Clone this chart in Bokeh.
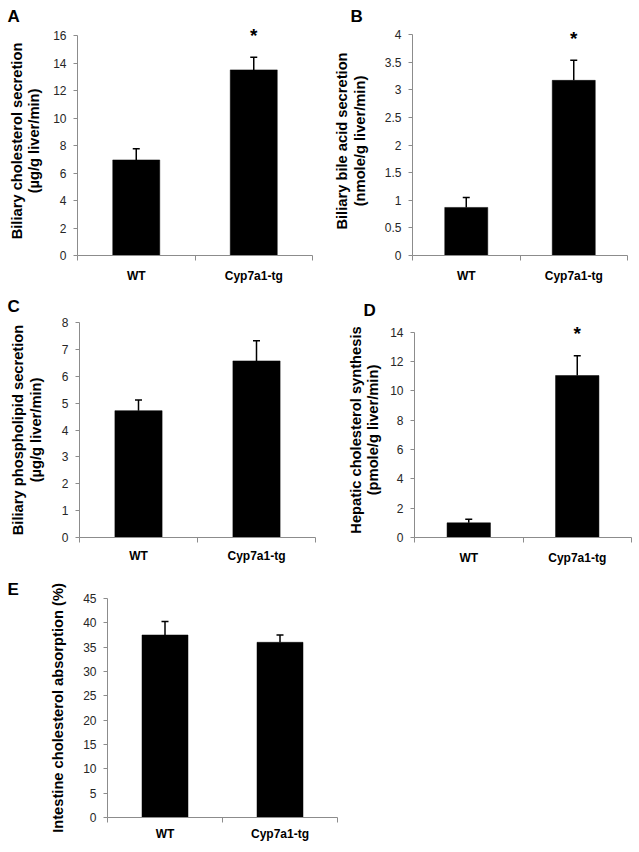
import math
from bokeh.plotting import figure
from bokeh.models import (Range1d, FixedTicker, NumeralTickFormatter, Whisker, TeeHead,
                          ColumnDataSource, Label)
from bokeh.layouts import column, row
from bokeh.embed import file_html
from bokeh.resources import INLINE

# ---------------- data ----------------
categories = ["WT", "Cyp7a1-tg"]

a_values = [6.95, 13.5]
a_errors = [0.82, 0.92]
a_sig = ["", "*"]
a_ticks = [0, 2, 4, 6, 8, 10, 12, 14, 16]
a_title = ["Biliary cholesterol secretion", "(\u00b5g/g liver/min)"]

b_values = [0.87, 3.17]
b_errors = [0.18, 0.365]
b_sig = ["", "*"]
b_ticks = [0, 0.5, 1, 1.5, 2, 2.5, 3, 3.5, 4]
b_title = ["Biliary bile acid secretion", "(nmole/g liver/min)"]

c_values = [4.72, 6.57]
c_errors = [0.40, 0.75]
c_sig = ["", ""]
c_ticks = [0, 1, 2, 3, 4, 5, 6, 7, 8]
c_title = ["Biliary phospholipid secretion", "(\u00b5g/g liver/min)"]

d_values = [1.0, 11.05]
d_errors = [0.24, 1.35]
d_sig = ["", "*"]
d_ticks = [0, 2, 4, 6, 8, 10, 12, 14]
d_title = ["Hepatic cholesterol synthesis", "(pmole/g liver/min)"]

e_values = [37.5, 36.0]
e_errors = [2.75, 1.5]
e_sig = ["", ""]
e_ticks = [0, 5, 10, 15, 20, 25, 30, 35, 40, 45]
e_title = ["Intestine cholesterol absorption (%)"]

FONT = "Liberation Sans"
AXIS_COLOR = "#8c8c8c"


def make_panel(letter, title_lines, values, errors, sig, ticks,
               origin, size, frame, axis_top, letter_pos, title_standoff, cat_standoff):
    ox, oy = origin
    W, H = size
    L, R, T, B = frame          # frame box in page px (T may sit above the top tick)
    ncat = len(categories)
    ymin, ymax = ticks[0], ticks[-1]
    # extend the range above the last tick so the frame reaches up to T
    ytop = ymax + (axis_top - T) / (B - axis_top) * (ymax - ymin)
    p = figure(width=W, height=H, output_backend="svg", toolbar_location=None,
               x_range=Range1d(0, ncat), y_range=Range1d(ymin, ytop),
               min_border_left=L - ox, min_border_right=(ox + W) - R,
               min_border_top=T - oy, min_border_bottom=(oy + H) - B)
    p.outline_line_color = None
    p.xgrid.visible = False
    p.ygrid.visible = False
    p.background_fill_color = "white"
    p.border_fill_color = "white"

    xs = [i + 0.5 for i in range(ncat)]
    upper = [v + e for v, e in zip(values, errors)]
    src = ColumnDataSource(dict(x=xs, top=values, lower=list(values), upper=upper))

    p.vbar(x="x", top="top", width=0.4, bottom=0, source=src,
           fill_color="black", line_color="black", line_width=0.5)
    p.add_layout(Whisker(source=src, base="x", lower="lower", upper="upper",
                         dimension="height", line_color="black", line_width=1.5,
                         upper_head=TeeHead(size=7, line_color="black", line_width=1.5),
                         lower_head=None))
    for x, u, s in zip(xs, upper, sig):
        if s:
            p.add_layout(Label(x=x, y=u, text=s, y_offset=22,
                               text_align="center", text_baseline="alphabetic",
                               text_font=FONT, text_font_size="19px", text_font_style="bold",
                               text_color="black"))

    # panel letter as the figure title
    lx, ly = letter_pos
    p.title.text = letter
    p.title.align = "left"
    p.title.offset = lx - L
    p.title.standoff = title_standoff
    p.title.text_font = FONT
    p.title.text_font_size = "17px"
    p.title.text_font_style = "bold"
    p.title.text_color = "black"

    # x axis: labels at category centres, ticks at category boundaries
    xa = p.xaxis[0]
    xa.ticker = FixedTicker(ticks=xs, minor_ticks=list(range(ncat + 1)))
    xa.major_label_overrides = {x: c for x, c in zip(xs, categories)}
    xa.major_tick_out = 0
    xa.major_tick_in = 0
    xa.minor_tick_out = 5
    xa.minor_tick_in = 0
    xa.minor_tick_line_color = AXIS_COLOR
    xa.axis_line_color = AXIS_COLOR
    xa.major_label_standoff = cat_standoff
    xa.major_label_text_font = FONT
    xa.major_label_text_font_size = "12px"
    xa.major_label_text_font_style = "bold"
    xa.major_label_text_color = "black"

    ya = p.yaxis[0]
    ya.ticker = FixedTicker(ticks=ticks, minor_ticks=[])
    ya.bounds = (ymin, ymax)
    ya.formatter = NumeralTickFormatter(format="0.[0]")
    ya.major_tick_out = 4
    ya.major_tick_in = 0
    ya.major_tick_line_color = AXIS_COLOR
    ya.axis_line_color = AXIS_COLOR
    ya.major_label_standoff = 7
    ya.major_label_text_font = FONT
    ya.major_label_text_font_size = "12px"
    ya.major_label_text_color = "#262626"
    ya.axis_label = "\n".join(title_lines)
    ya.axis_label_text_font = FONT
    ya.axis_label_text_font_size = "14.7px"
    ya.axis_label_text_font_style = "bold"
    ya.axis_label_text_color = "black"
    ya.axis_label_text_line_height = 1.1
    return p, ya


pA, yA = make_panel("A", a_title, a_values, a_errors, a_sig, a_ticks,
                    origin=(0, 0), size=(320, 287), frame=(77, 312, 26, 255), axis_top=35,
                    letter_pos=(7, 20), title_standoff=2, cat_standoff=8)
yA.axis_label_standoff = 8
pB, yB = make_panel("B", b_title, b_values, b_errors, b_sig, b_ticks,
                    origin=(320, 0), size=(319, 287), frame=(412, 627, 26, 255), axis_top=34,
                    letter_pos=(350, 20), title_standoff=2, cat_standoff=8)
yB.axis_label_standoff = 14
pC, yC = make_panel("C", c_title, c_values, c_errors, c_sig, c_ticks,
                    origin=(0, 287), size=(320, 287), frame=(79, 315, 322, 543), axis_top=322,
                    letter_pos=(7, 305), title_standoff=13, cat_standoff=6)
yC.axis_label_standoff = 15
pD, yD = make_panel("D", d_title, d_values, d_errors, d_sig, d_ticks,
                    origin=(320, 287), size=(319, 287), frame=(414, 631, 318, 537), axis_top=328,
                    letter_pos=(363, 308), title_standoff=6, cat_standoff=8)
yD.axis_label_standoff = 6
pE, yE = make_panel("E", e_title, e_values, e_errors, e_sig, e_ticks,
                    origin=(0, 574), size=(345, 276), frame=(107, 337, 598, 817), axis_top=598,
                    letter_pos=(7, 597), title_standoff=0, cat_standoff=4)
yE.axis_label_standoff = 14

layout = column(row(pA, pB), row(pC, pD), pE)

open("out.html", "w").write(file_html(layout, INLINE))
